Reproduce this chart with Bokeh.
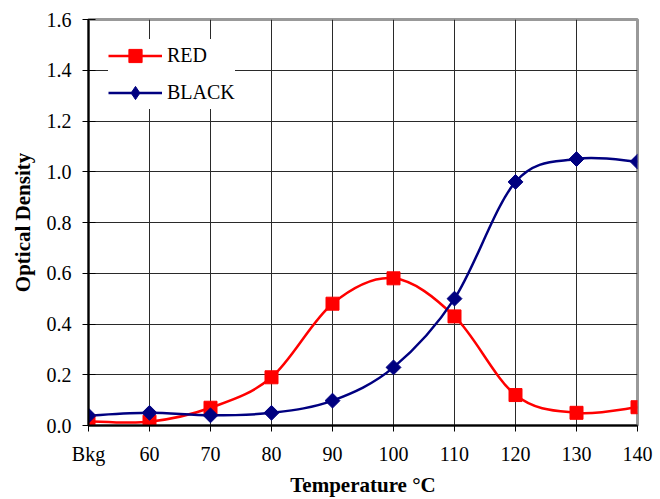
import numpy as np
from bokeh.plotting import figure
from bokeh.models import Range1d, FixedTicker, Legend, LegendItem, NumeralTickFormatter
from bokeh.embed import file_html
from bokeh.resources import INLINE

categories = ["Bkg", "60", "70", "80", "90", "100", "110", "120", "130", "140"]
red = [0.017, 0.015, 0.07, 0.19, 0.48, 0.58, 0.43, 0.12, 0.05, 0.072]
black = [0.039, 0.05, 0.04, 0.05, 0.098, 0.229, 0.50, 0.96, 1.05, 1.04]
y_ticks = [0.0, 0.2, 0.4, 0.6, 0.8, 1.0, 1.2, 1.4, 1.6]

RED = "#FF0000"
NAVY = "#000080"
FONT = "Liberation Serif"


def bezier_segments(xs, ys, t=1.0 / 6.0):
    x = np.asarray(xs, dtype=float)
    y = np.asarray(ys, dtype=float)
    xp = np.concatenate([[x[0]], x, [x[-1]]])
    yp = np.concatenate([[y[0]], y, [y[-1]]])
    n = len(x)
    seg = dict(x0=[], y0=[], x1=[], y1=[], cx0=[], cy0=[], cx1=[], cy1=[])
    for i in range(n - 1):
        p0x, p0y = xp[i], yp[i]
        p1x, p1y = xp[i + 1], yp[i + 1]
        p2x, p2y = xp[i + 2], yp[i + 2]
        p3x, p3y = xp[i + 3], yp[i + 3]
        seg["x0"].append(p1x); seg["y0"].append(p1y)
        seg["x1"].append(p2x); seg["y1"].append(p2y)
        seg["cx0"].append(p1x + (p2x - p0x) * t); seg["cy0"].append(p1y + (p2y - p0y) * t)
        seg["cx1"].append(p2x - (p3x - p1x) * t); seg["cy1"].append(p2y - (p3y - p1y) * t)
    return seg


xs = list(range(len(categories)))

p = figure(width=660, height=499, output_backend="svg", toolbar_location=None,
           x_range=Range1d(0, len(categories) - 1), y_range=Range1d(0, 1.6),
           min_border_left=88, min_border_right=23, min_border_top=19, min_border_bottom=73)

p.background_fill_color = "white"
p.border_fill_color = "white"
p.outline_line_color = "#999999"
p.outline_line_width = 3

# grid
p.xgrid.ticker = FixedTicker(ticks=xs)
p.ygrid.ticker = FixedTicker(ticks=y_ticks)
for g in (p.xgrid, p.ygrid):
    g.grid_line_color = "#2a2a2a"
    g.grid_line_width = 1

# axes
p.xaxis.ticker = FixedTicker(ticks=xs)
p.xaxis.major_label_overrides = {i: c for i, c in enumerate(categories)}
p.yaxis.ticker = FixedTicker(ticks=y_ticks)
p.yaxis.formatter = NumeralTickFormatter(format="0.0")
for ax in (p.xaxis, p.yaxis):
    ax.axis_line_color = "black"
    ax.axis_line_width = 2
    ax.major_tick_line_color = "black"
    ax.major_tick_line_width = 1
    ax.minor_tick_line_color = None
    ax.major_label_text_font = FONT
    ax.major_label_text_font_size = "20px"
    ax.major_label_text_color = "black"
    ax.axis_label_text_font = FONT
    ax.axis_label_text_font_style = "bold"
    ax.axis_label_text_font_size = "21px"
    ax.axis_label_text_color = "black"
p.xaxis.major_tick_in = 0
p.xaxis.major_tick_out = 6
p.yaxis.major_tick_in = 7
p.yaxis.major_tick_out = 6
p.xaxis.major_label_standoff = 11
p.yaxis.major_label_standoff = 11
p.xaxis.axis_label = "Temperature °C"
p.yaxis.axis_label = "Optical Density"
p.xaxis.axis_label_standoff = 5
p.yaxis.axis_label_standoff = 9

# curves
rs = bezier_segments(xs, red)
bs = bezier_segments(xs, black)
p.bezier(source=rs, x0="x0", y0="y0", x1="x1", y1="y1", cx0="cx0", cy0="cy0", cx1="cx1", cy1="cy1",
         line_color=RED, line_width=2.5)
p.bezier(source=bs, x0="x0", y0="y0", x1="x1", y1="y1", cx0="cx0", cy0="cy0", cx1="cx1", cy1="cy1",
         line_color=NAVY, line_width=2.5)
p.scatter(xs, red, marker="square", size=13, fill_color=RED, line_color=RED)
p.scatter(xs, black, marker="square", angle=np.pi / 4, size=10.5, fill_color=NAVY, line_color=NAVY)

# legend proxies (draw nothing in the plot)
red_line = p.line([np.nan], [np.nan], line_color=RED, line_width=2.5)
black_line = p.line([np.nan], [np.nan], line_color=NAVY, line_width=2.5)
red_mark = p.scatter([np.nan], [np.nan], marker="square", fill_color=RED, line_color=RED)
black_mark = p.scatter([np.nan], [np.nan], marker="diamond", fill_color=NAVY, line_color=NAVY)

legend = Legend(items=[LegendItem(label="RED", renderers=[red_line, red_mark]),
                       LegendItem(label="BLACK", renderers=[black_line, black_mark])],
                location="top_left")
legend.margin = 20
legend.padding = 10
legend.spacing = 4
legend.glyph_width = 54
legend.glyph_height = 33
legend.label_standoff = 5
legend.label_text_font = FONT
legend.label_text_font_size = "20px"
legend.label_text_color = "black"
legend.border_line_color = None
legend.background_fill_color = "white"
legend.background_fill_alpha = 1.0
p.add_layout(legend)

open("out.html", "w").write(file_html(p, INLINE))
